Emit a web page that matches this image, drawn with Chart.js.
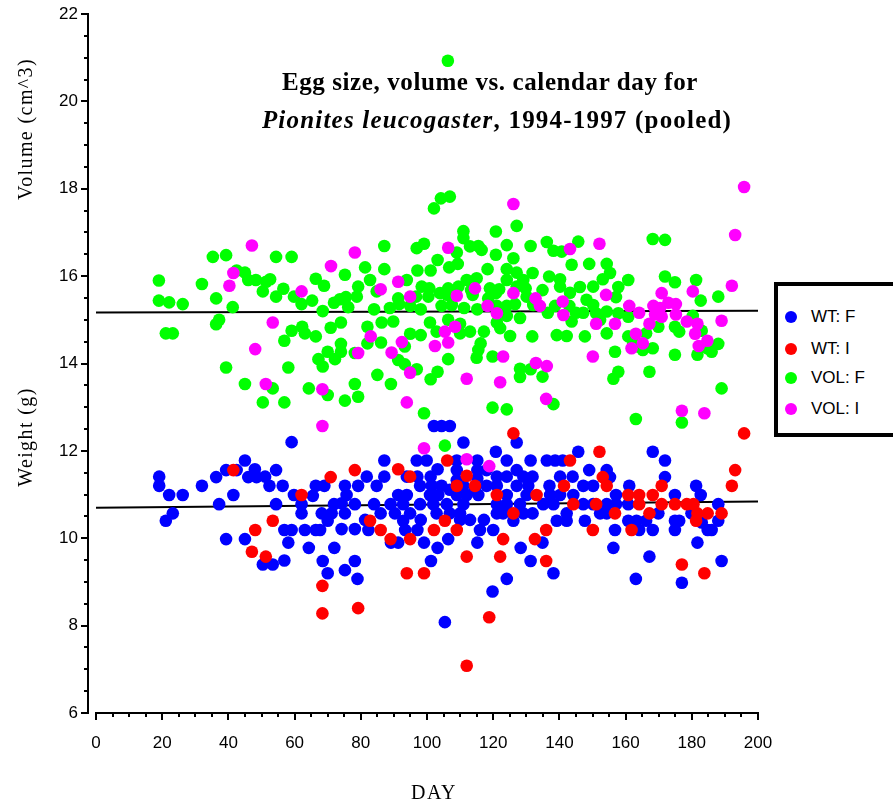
<!DOCTYPE html>
<html>
<head>
<meta charset="utf-8">
<script src="https://cdn.jsdelivr.net/npm/chart.js@4.4.1/dist/chart.umd.min.js"></script>
<style>
  html, body { margin: 0; padding: 0; background: #fff; }
  #wrap { position: relative; width: 893px; height: 802px; overflow: hidden; background: #fff; }
  #c { position: absolute; left: 0; top: 0; }
  .ttl { position: absolute; left: 190px; top: 63px; width: 600px; text-align: center;
         font: bold 25px 'Liberation Serif', 'Times New Roman', serif; line-height: 38px; letter-spacing: 0.6px; color: #000; }
  .ttl .l2 { letter-spacing: 1.2px; position: relative; left: 7px; }
  .ytitle { position: absolute; width: 200px; height: 24px; line-height: 24px; text-align: center;
            font: 20px 'Liberation Serif', 'Times New Roman', serif; letter-spacing: 1.4px; color: #000;
            transform: rotate(-90deg); white-space: nowrap; }
  .xtitle { position: absolute; left: 334px; top: 782px; width: 200px; text-align: center;
            font: 20px 'Liberation Serif', 'Times New Roman', serif; line-height: 20px; letter-spacing: 1.5px; color: #000; }
  #legend { position: absolute; left: 774px; top: 282px; width: 140px; height: 147px; border: 4px solid #000; background: #fff; }
  .lg { position: absolute; left: 0; height: 20px; line-height: 20px; width: 130px;
        font: 17px 'Liberation Sans', Arial, sans-serif; color: #000; white-space: nowrap; }
  .lg .dot { position: absolute; left: 7px; top: 4px; width: 12px; height: 12px; border-radius: 50%; }
  .lg .tx { position: absolute; left: 33px; top: 0; }
</style>
</head>
<body>
<div id="wrap">
  <canvas id="c" width="893" height="802"></canvas>
  <div class="ttl">Egg size, volume vs. calendar day for<br><span class="l2"><i>Pionites leucogaster</i>, 1994-1997 (pooled)</span></div>
  <div class="ytitle" style="left:-74px; top:117px;">Volume (cm^3)</div>
  <div class="ytitle" style="left:-74px; top:425px;">Weight (g)</div>
  <div class="xtitle">DAY</div>
  <div id="legend"></div>
</div>
<script>
// ---- data: [day, value] ----
const seriesNames = ['WT: F', 'WT: I', 'VOL: F', 'VOL: I'];
const seriesColors = ['#0000FF', '#FF0000', '#00FF00', '#FF00FF'];

const wtF = [
[19.1,11.41],[19.1,11.20],[22.1,10.99],[26.2,10.99],[23.2,10.57],[21.1,10.40],[32.0,11.20],[36.3,11.40],[39.3,11.56],[42.5,11.56],
[45.0,11.78],[48.0,11.58],[46.0,11.40],[48.5,11.40],[51.1,11.41],[52.4,11.20],[54.4,11.56],[56.4,11.20],[41.5,10.99],[37.2,10.78],
[54.4,10.78],[59.1,12.20],[59.8,10.99],[62.1,10.78],[62.1,10.57],[65.5,10.97],[66.4,11.20],[69.0,11.20],[75.2,11.20],[75.7,10.99],
[71.9,10.78],[74.2,10.80],[68.2,10.57],[70.0,10.40],[71.2,10.57],[75.2,10.57],[78.2,10.78],[79.2,11.20],[56.9,10.19],[59.1,10.19],
[63.1,10.19],[66.4,10.19],[67.7,10.19],[74.2,10.21],[78.2,10.21],[39.3,9.98],[45.0,9.98],[58.1,9.90],[64.3,9.78],[72.0,9.78],
[50.4,9.40],[53.4,9.40],[56.9,9.49],[68.5,9.48],[70.0,9.20],[75.2,9.27],[78.2,9.48],[79.0,9.07],
[102.1,12.57],[104.4,12.57],[106.9,12.57],[111.0,12.19],[120.8,11.98],[127.1,12.19],[87.1,11.78],[96.9,11.78],[99.9,11.78],[103.2,11.58],
[109.0,11.78],[115.2,11.78],[124.1,11.78],[131.3,11.78],[136.2,11.78],[138.7,11.78],[141.0,11.78],[145.7,11.98],[81.8,11.41],[87.1,11.41],
[93.9,11.41],[97.1,11.41],[101.1,11.41],[109.0,11.56],[109.0,11.33],[115.2,11.56],[115.2,11.37],[118.0,11.56],[121.1,11.41],[124.1,11.41],
[127.1,11.56],[129.1,11.41],[131.9,11.41],[140.2,11.41],[144.0,11.41],
[84.8,11.20],[97.9,11.20],[101.4,11.20],[104.4,11.20],[106.9,11.11],[111.0,11.20],[114.5,11.11],[118.0,11.20],[121.1,11.20],[127.1,11.20],
[130.6,11.20],[137.0,11.20],[91.3,10.99],[93.9,10.99],[100.9,10.99],[103.4,10.99],[109.0,10.99],[112.0,10.99],[115.5,10.99],[124.1,10.99],
[130.1,10.99],[137.2,10.99],[140.2,10.99],[144.2,10.99],
[84.0,10.78],[89.0,10.78],[92.8,10.78],[97.9,10.78],[101.9,10.78],[106.0,10.78],[111.0,10.78],[121.1,10.78],[124.1,10.78],[128.1,10.78],
[135.1,10.78],[138.2,10.78],[86.0,10.57],[90.3,10.57],[94.9,10.57],[102.9,10.57],[106.9,10.57],[110.0,10.57],[121.1,10.57],[123.0,10.57],
[129.1,10.57],[131.9,10.57],[142.2,10.57],
[81.3,10.42],[92.8,10.40],[98.1,10.42],[110.0,10.42],[113.0,10.42],[117.2,10.42],[126.1,10.40],[139.2,10.40],[142.2,10.40],[82.3,10.19],
[93.4,10.19],[97.1,10.19],[116.0,10.19],[120.0,10.19],[89.1,9.90],[91.3,9.90],[99.1,9.90],[103.2,9.78],[106.4,9.98],[115.2,9.90],
[128.3,9.78],[134.9,9.90],[101.2,9.48],[131.3,9.48],[138.2,9.20],[124.1,9.07],[119.8,8.78],[105.4,8.08],
[168.2,11.98],[171.9,11.78],[149.0,11.56],[154.3,11.56],[155.3,11.40],[171.9,11.40],[147.2,11.20],[150.2,11.20],[161.1,11.20],[181.3,11.20],
[182.7,10.99],[174.9,10.99],[157.1,10.99],[147.2,10.78],[150.2,10.78],[154.3,10.78],[157.1,10.78],[160.8,10.78],[188.0,10.78],[152.3,10.57],
[154.3,10.57],[169.9,10.57],[179.9,10.57],[147.7,10.40],[160.8,10.40],[163.3,10.40],[166.2,10.40],[174.9,10.40],[176.2,10.40],[188.0,10.40],
[183.0,10.36],[156.8,10.19],[164.1,10.19],[168.2,10.19],[174.9,10.19],[184.8,10.19],[186.0,10.19],[156.3,9.78],[181.7,9.90],[167.2,9.58],
[189.0,9.48],[163.1,9.07],[177.0,8.98]
];

const wtI = [
[41.5,11.56],[70.9,11.40],[78.2,11.56],[62.1,10.99],[53.4,10.40],[48.1,10.19],[47.1,9.69],[51.3,9.58],[68.4,8.91],[68.4,8.28],[79.2,8.40],
[126.1,12.40],[106.1,11.78],[91.3,11.58],[94.9,11.41],[112.0,11.43],[109.0,11.20],[114.5,11.20],[121.1,10.99],[133.1,10.99],[141.4,11.20],
[143.2,11.78],[144.2,10.78],[126.1,10.57],[82.8,10.40],[86.0,10.19],[105.4,10.40],[102.1,10.19],[109.0,10.19],[89.0,9.98],[94.9,9.98],
[123.0,9.98],[132.6,9.98],[136.0,10.19],[112.0,9.58],[122.1,9.58],[136.0,9.48],[93.9,9.20],[99.1,9.20],[118.8,8.19],[112.0,7.08],
[152.1,11.98],[193.1,11.56],[192.1,11.20],[154.3,11.20],[153.1,11.40],[170.9,11.20],[160.8,10.99],[164.1,10.99],[168.2,10.99],[151.1,10.78],
[156.8,10.57],[164.1,10.78],[167.2,10.57],[170.9,10.78],[174.9,10.78],[178.5,10.78],[180.5,10.78],[181.7,10.57],[184.8,10.57],[189.0,10.57],
[181.3,10.40],[150.1,10.19],[161.8,10.19],[177.0,9.40],[183.8,9.20],[195.8,12.40]
];

const volF = [
[19.0,15.90],[19.0,15.44],[22.1,15.40],[26.2,15.36],[21.1,14.69],[23.2,14.69],[32.0,15.82],[35.3,16.44],[39.3,16.48],[36.3,15.49],
[37.2,15.00],[36.3,14.90],[41.3,15.29],[42.5,16.13],[45.0,16.08],[46.0,15.91],[48.3,15.91],[50.4,15.65],[51.4,15.87],[52.6,15.93],
[54.4,16.44],[59.1,16.44],[54.4,15.53],[56.6,15.71],[59.8,15.53],[62.1,15.36],[65.3,15.44],[66.4,15.94],[68.9,15.78],[75.2,16.03],
[68.5,15.20],[71.9,15.39],[73.7,15.47],[75.5,15.52],[76.2,15.29],[78.8,15.53],[79.2,15.76],[59.1,14.75],[56.9,14.52],[62.3,14.84],
[63.1,14.69],[66.4,14.62],[70.9,14.82],[74.0,14.94],[67.2,14.10],[68.5,13.93],[70.0,14.27],[72.2,14.10],[74.0,14.45],[74.0,14.27],
[78.2,14.24],[39.3,13.91],[58.1,13.91],[45.0,13.53],[53.4,13.43],[50.4,13.11],[56.9,13.11],[64.3,13.43],[70.0,13.28],[75.2,13.15],
[78.2,13.53],[79.2,13.24],
[102.1,17.55],[104.2,17.78],[106.9,17.82],[127.1,17.15],[111.0,17.03],[120.8,17.02],[111.0,16.87],[87.1,16.69],[96.9,16.64],[99.1,16.74],
[113.0,16.68],[115.5,16.69],[116.5,16.60],[124.1,16.71],[131.3,16.69],[136.2,16.78],[138.2,16.58],[140.7,16.56],[145.7,16.79],[109.0,16.54],
[120.8,16.49],[126.1,16.41],[143.7,16.26],[103.2,16.37],[106.7,16.20],[109.3,16.28],[81.3,16.20],[87.1,16.16],[97.1,16.13],[101.1,16.13],
[118.3,16.16],[124.1,16.16],[127.1,16.08],[131.9,16.07],[136.9,15.99],[140.2,15.93],[82.8,15.91],[93.9,15.91],[112.0,15.91],[115.0,15.95],
[124.1,15.91],[129.1,15.91],[84.8,15.65],[98.4,15.76],[100.7,15.72],[106.4,15.72],[109.5,15.76],[113.3,15.68],[119.0,15.72],[121.8,15.70],
[127.1,15.76],[129.8,15.72],[134.9,15.68],[140.2,15.76],[143.2,15.62],[146.2,15.75],[91.3,15.49],[96.7,15.53],[100.4,15.53],[103.9,15.61],
[106.1,15.57],[113.8,15.57],[118.5,15.49],[120.8,15.61],[130.1,15.53],[84.0,15.24],[88.8,15.27],[91.6,15.36],[94.9,15.32],[98.1,15.24],
[104.4,15.32],[107.5,15.34],[111.2,15.27],[115.2,15.24],[121.1,15.32],[124.1,15.32],[126.6,15.36],[132.1,15.34],[136.5,15.16],[138.7,15.32],
[143.0,15.32],[145.0,15.16],[86.3,14.94],[89.8,14.96],[100.9,14.94],[106.4,15.00],[110.0,14.91],[121.1,14.94],[124.1,15.09],[128.1,15.04],
[143.7,14.96],[82.0,14.84],[102.9,14.73],[110.0,14.69],[113.0,14.73],[117.2,14.73],[122.1,14.81],[125.1,14.63],[131.8,14.62],[139.2,14.65],
[142.2,14.63],[94.9,14.68],[98.1,14.65],[82.0,14.46],[86.1,14.48],[93.3,14.39],[116.2,14.46],[115.5,14.31],[115.0,14.13],[119.8,14.16],
[106.4,14.10],[91.3,14.08],[93.3,13.98],[96.9,13.87],[128.1,13.88],[131.3,13.87],[134.9,13.70],[128.1,13.69],[103.2,13.81],[101.1,13.64],
[85.0,13.74],[89.1,13.53],[99.1,12.86],[119.8,12.99],[124.1,12.95],[138.2,13.07],[105.4,12.12],[106.3,20.93],
[168.2,16.85],[171.9,16.83],[149.0,16.28],[154.3,16.28],[155.3,16.07],[153.1,15.93],[160.8,15.91],[171.9,15.99],[174.9,15.86],[181.3,15.91],
[182.7,15.44],[188.0,15.53],[150.2,15.76],[157.8,15.75],[157.1,15.52],[148.2,15.46],[150.2,15.34],[147.2,15.16],[151.1,15.15],[154.3,15.19],
[157.8,15.15],[160.8,15.07],[152.3,15.00],[169.9,14.84],[174.9,14.84],[176.2,14.73],[180.3,15.09],[183.0,14.75],[166.2,14.69],[154.3,14.69],
[147.7,14.62],[160.8,14.62],[162.3,14.46],[163.8,14.39],[165.2,14.31],[168.2,14.35],[156.8,14.27],[174.9,14.20],[181.7,14.20],[184.7,14.35],
[186.0,14.27],[188.0,14.45],[157.8,13.81],[156.3,13.65],[167.2,13.81],[189.0,13.43],[163.1,12.73],[177.0,12.65]
];

const volI = [
[47.1,16.70],[78.2,16.54],[71.0,16.23],[41.5,16.07],[40.3,15.78],[62.1,15.65],[53.4,14.94],[48.1,14.33],[79.2,14.24],[51.3,13.53],
[68.4,13.41],[68.4,12.57],
[126.1,17.65],[106.4,16.65],[143.2,16.62],[86.0,15.70],[91.3,15.87],[94.9,15.53],[109.0,15.55],[114.5,15.72],[118.3,15.32],[121.1,15.15],
[126.1,15.61],[132.8,15.49],[134.1,15.32],[141.0,15.42],[141.2,15.11],[108.5,14.84],[105.4,14.73],[83.0,14.62],[92.4,14.49],[106.4,14.48],
[102.4,14.40],[89.3,14.25],[123.0,14.16],[132.9,14.01],[136.2,13.94],[94.9,13.79],[112.0,13.65],[122.1,13.57],[136.0,13.19],[93.9,13.11],
[99.1,12.06],[112.0,11.81],[118.8,11.65],
[195.8,18.04],[193.1,16.94],[152.1,16.74],[192.1,15.78],[180.3,15.65],[170.9,15.61],[154.1,15.57],[161.1,15.32],[164.1,15.16],[168.4,15.32],
[170.4,15.27],[172.9,15.39],[175.2,15.36],[168.9,15.12],[170.9,15.07],[175.2,15.12],[167.2,14.91],[156.8,14.91],[151.1,14.91],[178.5,14.96],
[181.7,14.91],[189.0,14.98],[181.0,14.68],[184.7,14.52],[182.1,14.40],[161.8,14.35],[163.1,14.68],[165.2,14.46],[150.1,14.16],[177.0,12.92],
[183.8,12.86]
];

// regression (fit) lines: [day, value] at both ends
const volFit = [[0, 15.165], [200, 15.21]];
const wtFit = [[0, 10.70], [200, 10.84]];

// axis ticks
const X_MIN = 0, X_MAX = 200, X_STEP = 20, X_MINOR = 5;
const Y_MIN = 6, Y_MAX = 22, Y_STEP = 2, Y_MINOR = 0.5;

const toPts = arr => arr.map(p => ({ x: p[0], y: p[1] }));
const allSeries = [wtF, wtI, volF, volI];

const datasets = [];
// draw order: smaller "order" drawn on top
const orders = [4, 3, 2, 1];
allSeries.forEach((s, i) => {
  datasets.push({
    label: seriesNames[i],
    data: toPts(s),
    backgroundColor: seriesColors[i],
    borderColor: seriesColors[i],
    borderWidth: 0,
    pointRadius: 6.3,
    pointHoverRadius: 6.3,
    order: orders[i]
  });
});
[volFit, wtFit].forEach((f, i) => {
  datasets.push({
    label: 'fit' + i,
    data: toPts(f),
    showLine: true,
    borderColor: '#000',
    borderWidth: 2,
    pointRadius: 0,
    fill: false,
    order: 10
  });
});

const axesPlugin = {
  id: 'customAxes',
  afterDraw(chart) {
    const { ctx } = chart;
    const xs = chart.scales.x, ys = chart.scales.y;
    ctx.save();
    ctx.strokeStyle = '#000';
    ctx.lineWidth = 2;
    ctx.lineCap = 'butt';
    // y axis (slightly detached left of x=0)
    const ax = Math.round(xs.getPixelForValue(X_MIN)) - 8;
    const yTop = ys.getPixelForValue(Y_MAX), yBot = ys.getPixelForValue(Y_MIN);
    ctx.beginPath(); ctx.moveTo(ax, yTop - 1); ctx.lineTo(ax, yBot + 1); ctx.stroke();
    for (let v = Y_MIN; v <= Y_MAX + 1e-9; v += Y_MINOR) {
      const py = Math.round(ys.getPixelForValue(v));
      const major = Math.abs(v / Y_STEP - Math.round(v / Y_STEP)) < 1e-6;
      const len = major ? 7 : 4;
      ctx.beginPath(); ctx.moveTo(ax - len, py); ctx.lineTo(ax, py); ctx.stroke();
    }
    // x axis
    const ay = Math.round(ys.getPixelForValue(Y_MIN));
    const xL = xs.getPixelForValue(X_MIN), xR = xs.getPixelForValue(X_MAX);
    ctx.beginPath(); ctx.moveTo(xL - 1, ay); ctx.lineTo(xR + 1, ay); ctx.stroke();
    for (let v = X_MIN; v <= X_MAX + 1e-9; v += X_MINOR) {
      const px = Math.round(xs.getPixelForValue(v));
      const major = Math.abs(v / X_STEP - Math.round(v / X_STEP)) < 1e-6;
      const len = major ? 7 : 4;
      ctx.beginPath(); ctx.moveTo(px, ay); ctx.lineTo(px, ay + len); ctx.stroke();
    }
    ctx.restore();
  }
};

new Chart(document.getElementById('c'), {
  type: 'scatter',
  data: { datasets },
  options: {
    responsive: false,
    animation: false,
    devicePixelRatio: 1,
    layout: { padding: { left: 0, right: 135, top: 14, bottom: 0 } },
    plugins: { legend: { display: false }, tooltip: { enabled: false }, title: { display: false } },
    scales: {
      x: {
        type: 'linear', min: X_MIN, max: X_MAX,
        grid: { display: false, drawTicks: false },
        border: { display: false },
        ticks: { stepSize: X_STEP, color: '#000', padding: 20,
                 font: { family: "'Liberation Sans', Arial, sans-serif", size: 17 } },
        afterFit: s => { s.height = 89; s.paddingLeft = 0; s.paddingRight = 0; }
      },
      y: {
        type: 'linear', min: Y_MIN, max: Y_MAX,
        grid: { display: false, drawTicks: false },
        border: { display: false },
        ticks: { stepSize: Y_STEP, color: '#000', padding: 18,
                 font: { family: "'Liberation Sans', Arial, sans-serif", size: 17 } },
        afterFit: s => { s.width = 96; s.paddingTop = 0; s.paddingBottom = 0; }
      }
    }
  },
  plugins: [axesPlugin]
});

// HTML legend built from series names/colours
const lg = document.getElementById('legend');
const legendTops = [21, 53, 82, 113];
seriesNames.forEach((n, i) => {
  const d = document.createElement('div');
  d.className = 'lg';
  d.style.top = legendTops[i] + 'px';
  d.innerHTML = '<span class="dot" style="background:' + seriesColors[i] + '"></span><span class="tx">' + n + '</span>';
  lg.appendChild(d);
});
</script>
</body>
</html>
